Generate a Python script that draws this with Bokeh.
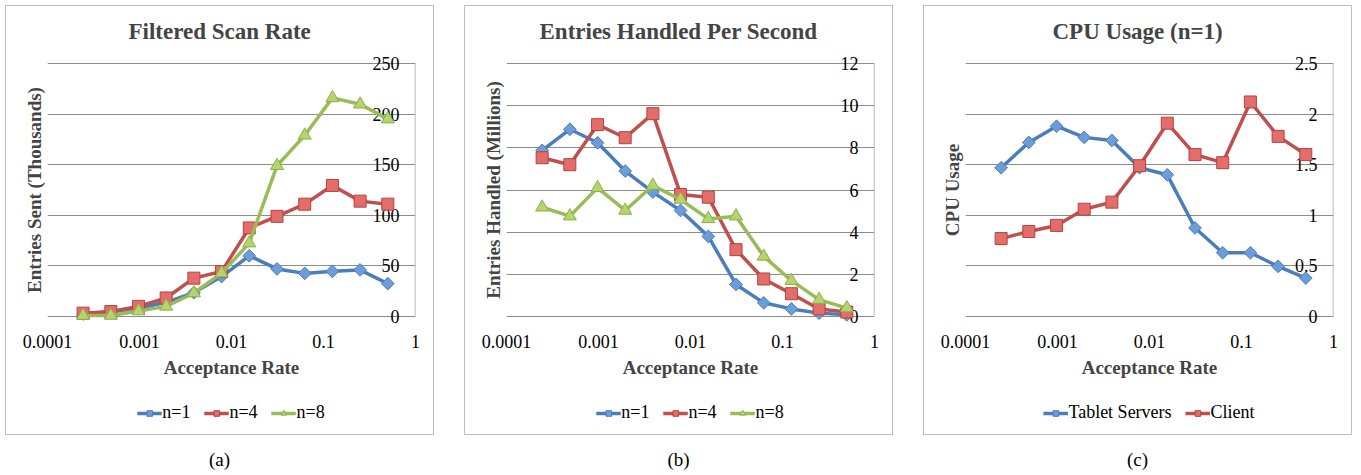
from bokeh.plotting import figure
from bokeh.models import FixedTicker, Legend, LegendItem, Div, LabelSet, ColumnDataSource
from bokeh.layouts import row, column
from bokeh.embed import file_html
from bokeh.resources import INLINE

# ---------------- data ----------------
acceptance = [0.000244, 0.000488, 0.000977, 0.00195, 0.0039, 0.0078,
              0.0156, 0.03125, 0.0625, 0.125, 0.25, 0.5]

x_ticks = [0.0001, 0.001, 0.01, 0.1, 1]
x_tick_labels = ["0.0001", "0.001", "0.01", "0.1", "1"]

# (a) Filtered Scan Rate, thousands of entries sent
scan_n1 = [2.5, 4.6, 8.0, 14.0, 23.5, 39.5, 60.0, 47.0, 42.6, 44.6, 46.0, 32.5]
scan_n4 = [3.3, 4.9, 10.0, 18.3, 37.9, 44.4, 87.5, 99.0, 111.0, 129.5, 114.0, 111.0]
scan_n8 = [1.0, 1.0, 5.4, 10.0, 23.2, 42.8, 72.5, 149.0, 179.0, 216.0, 209.7, 195.0]
scan_ticks = [0, 50, 100, 150, 200, 250]
scan_tick_labels = ["0", "50", "100", "150", "200", "250"]

# (b) Entries handled per second, millions
rate_n1 = [7.88, 8.88, 8.24, 6.9, 5.9, 5.03, 3.8, 1.52, 0.65, 0.36, 0.16, 0.08]
rate_n4 = [7.53, 7.2, 9.1, 8.48, 9.62, 5.79, 5.66, 3.17, 1.78, 1.08, 0.36, 0.21]
rate_n8 = [5.18, 4.76, 6.1, 5.03, 6.21, 5.55, 4.63, 4.76, 2.85, 1.7, 0.8, 0.4]
rate_ticks = [0, 2, 4, 6, 8, 10, 12]
rate_tick_labels = ["0", "2", "4", "6", "8", "10", "12"]

# (c) CPU usage (n=1)
cpu_tablet = [1.47, 1.72, 1.88, 1.77, 1.74, 1.47, 1.40, 0.875, 0.63, 0.63, 0.495, 0.38]
cpu_client = [0.77, 0.84, 0.90, 1.06, 1.13, 1.49, 1.91, 1.60, 1.52, 2.12, 1.78, 1.60]
cpu_ticks = [0, 0.5, 1, 1.5, 2, 2.5]
cpu_tick_labels = ["0", "0.5", "1", "1.5", "2", "2.5"]

# ---------------- styles ----------------
FONT = "Liberation Serif"
STYLE = {
    "blue": dict(line="#4a7ebb", fill="#6d9dd8", edge="#4a7ebb", marker="square", size=9, angle=0.785398),
    "red": dict(line="#c0504d", fill="#e26d6a", edge="#b5423f", marker="square", size=12, angle=0.0),
    "green": dict(line="#9bbb59", fill="#b5d46c", edge="#8eae4b", marker="triangle", size=13, angle=0.0),
}

PLOT_H = 253      # pixel height from 0 to the top tick
PAD = 11          # extra frame pixels above the top tick / below 0 so tick labels are not clipped


def add_series(p, ys, key, visible=True):
    s = STYLE[key]
    ln = p.line(acceptance, ys, line_color=s["line"], line_width=3.5, line_join="round",
                visible=visible)
    mk = p.scatter(acceptance, ys, marker=s["marker"], size=s["size"], angle=s["angle"],
                   fill_color=s["fill"], line_color=s["edge"], line_width=1, visible=visible)
    return ln, mk


def make_panel(title, title_offset, ylabel, yticks, ytick_labels, series):
    ymax = yticks[-1]
    ypad = ymax * PAD / PLOT_H
    p = figure(frame_width=368, frame_height=PLOT_H + 2 * PAD, x_axis_type="log",
               x_range=(0.0001, 1), y_range=(-ypad, ymax + ypad),
               output_backend="svg", toolbar_location=None,
               min_border_left=41, min_border_right=18, min_border_top=46,
               min_border_bottom=60, margin=(0, 0, 0, 0))
    p.outline_line_color = None
    p.background_fill_color = "white"
    p.border_fill_color = "white"

    p.title.text = title
    p.title.align = "left"
    p.title.offset = title_offset
    p.title.standoff = 18
    p.title.text_font = FONT
    p.title.text_font_style = "bold"
    p.title.text_font_size = "23px"

    p.xgrid.visible = False
    p.ygrid.ticker = FixedTicker(ticks=yticks)
    p.ygrid.grid_line_color = "#8c8c8c"
    p.ygrid.grid_line_width = 1

    ya = p.yaxis[0]
    ya.ticker = FixedTicker(ticks=[])
    ya.major_label_standoff = 0
    ya.major_tick_line_color = None
    ya.minor_tick_line_color = None
    ya.axis_line_color = None
    ya.axis_label = ylabel
    ya.axis_label_text_font = FONT
    ya.axis_label_text_font_style = "bold"
    ya.axis_label_text_font_size = "19px"
    ya.axis_label_standoff = 3

    xa = p.xaxis[0]
    xa.ticker = FixedTicker(ticks=x_ticks)
    xa.major_label_overrides = dict(zip(x_ticks, x_tick_labels))
    xa.major_tick_line_color = None
    xa.minor_tick_line_color = None
    xa.major_tick_out = 0
    xa.major_tick_in = 0
    xa.axis_line_color = None
    xa.major_label_text_font = FONT
    xa.major_label_text_font_size = "18px"
    xa.major_label_text_color = "black"
    xa.major_label_standoff = 7
    xa.axis_label = "Acceptance Rate"
    xa.axis_label_text_font = FONT
    xa.axis_label_text_font_style = "bold"
    xa.axis_label_text_font_size = "19px"
    xa.axis_label_standoff = 6

    # right-hand value axis line (from 0 to the top tick)
    p.segment(x0=[x_ticks[-1]], y0=[yticks[0]], x1=[x_ticks[-1]], y1=[ymax],
              line_color="#a6a6a6", line_width=1.5)

    # y tick labels, Excel style: right-aligned just inside the right edge, under the data
    src = ColumnDataSource(dict(x=[x_ticks[-1]] * len(yticks), y=yticks, text=ytick_labels))
    p.add_layout(LabelSet(x="x", y="y", text="text", source=src, x_offset=-16,
                          text_align="right", text_baseline="middle", text_font=FONT,
                          text_font_size="18px", text_color="black", level="underlay"))

    for label, ys, key in series:
        add_series(p, ys, key)

    # legend strip below the chart, inside the same box
    lg = figure(width=427, height=47, x_range=(0, 1), y_range=(0, 1),
                x_axis_location=None, y_axis_location=None, output_backend="svg",
                toolbar_location=None, min_border=0, min_border_right=19,
                margin=(0, 0, 0, 0))
    lg.outline_line_color = None
    lg.xgrid.visible = False
    lg.ygrid.visible = False
    lg.background_fill_color = "white"
    lg.border_fill_color = "white"
    items = []
    for label, ys, key in series:
        ln, mk = add_series(lg, ys, key, visible=False)
        items.append(LegendItem(label=label, renderers=[ln, mk]))
    legend = Legend(items=items, orientation="horizontal", location="top_center",
                    border_line_color=None, background_fill_alpha=0,
                    glyph_width=25, glyph_height=14, label_standoff=1, spacing=13,
                    padding=0, margin=15, label_height=20, inactive_fill_alpha=0)
    legend.label_text_font = FONT
    legend.label_text_font_style = "normal"
    legend.label_text_font_size = "18px"
    legend.label_text_color = "black"
    lg.add_layout(legend, "center")
    return p, lg


def boxed(parts, txt):
    p, lg = parts
    inner = column(p, lg, background="white", margin=(1, 1, 1, 1))
    box = column(inner, background="#bdbdbd")
    cap = Div(text=txt, width=429, height=20, margin=(15, 0, 0, 0),
              styles={"text-align": "center", "font-family": FONT,
                      "font-size": "19px", "line-height": "20px", "width": "429px"})
    return column(box, cap)


pa = make_panel("Filtered Scan Rate", 81, "Entries Sent (Thousands)", scan_ticks, scan_tick_labels,
                [("n=1", scan_n1, "blue"), ("n=4", scan_n4, "red"), ("n=8", scan_n8, "green")])
pb = make_panel("Entries Handled Per Second", 33, "Entries Handled (Millions)", rate_ticks, rate_tick_labels,
                [("n=1", rate_n1, "blue"), ("n=4", rate_n4, "red"), ("n=8", rate_n8, "green")])
pc = make_panel("CPU Usage (n=1)", 87, "CPU Usage", cpu_ticks, cpu_tick_labels,
                [("Tablet Servers", cpu_tablet, "blue"), ("Client", cpu_client, "red")])

layout = row(boxed(pa, "(a)"), boxed(pb, "(b)"), boxed(pc, "(c)"), spacing=30, margin=(5, 0, 0, 5))

open("out.html", "w").write(file_html(layout, INLINE))
